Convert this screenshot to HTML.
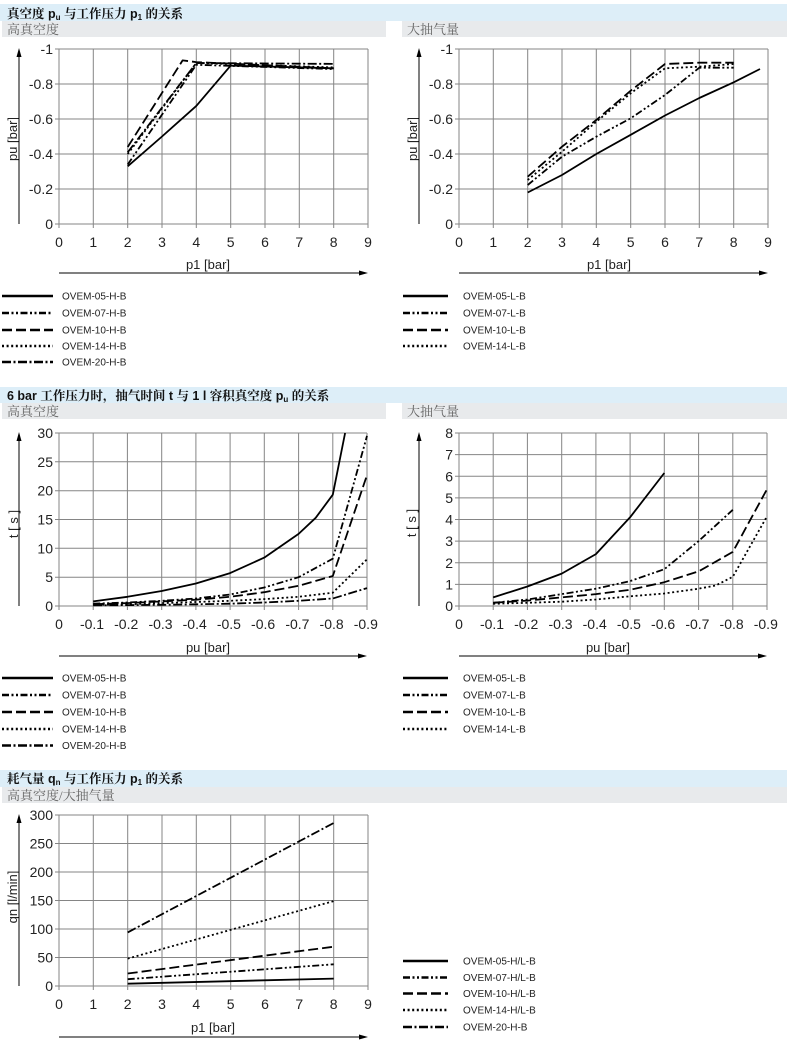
<!DOCTYPE html>
<html><head><meta charset="utf-8">
<style>
html,body{margin:0;padding:0;background:#fff;}
svg{display:block;}
.t{font-family:"Liberation Sans","Noto Serif CJK SC",serif;font-weight:bold;font-size:12.5px;fill:#111;}
.s{font-family:"Liberation Serif","Noto Serif CJK SC",serif;font-size:13px;fill:#666;}
.tk{font-family:"Liberation Sans",sans-serif;font-size:14px;fill:#222;}
.ax{font-family:"Liberation Sans",sans-serif;font-size:13px;fill:#222;}
.lg{font-family:"Liberation Sans",sans-serif;font-size:10px;fill:#222;}
.grid{stroke:#858585;stroke-width:1;fill:none;}
.d{fill:none;stroke:#000;stroke-width:1.8;stroke-linejoin:round;}
.l{fill:none;stroke:#000;stroke-width:2.5;}
.s07{stroke-dasharray:7 2.5 2 2.5 2 2.5;}
.s10{stroke-dasharray:10 4;}
.s14{stroke-dasharray:2 2.6;}
.s20{stroke-dasharray:9 2.5 2 2.5;}
.arr{stroke:#000;stroke-width:1;fill:none;}
</style></head>
<body>
<svg width="790" height="1044" viewBox="0 0 790 1044" xmlns="http://www.w3.org/2000/svg">
<!-- ===== Section 1 header ===== -->
<rect x="0" y="4" width="787" height="17" fill="#ddeef8"/>
<rect x="2" y="21" width="384" height="16" fill="#e8eaec"/>
<rect x="402" y="21" width="385" height="16" fill="#e8eaec"/>
<text x="7" y="18" class="t">真空度 p<tspan font-size="8" dy="2">u</tspan><tspan dy="-2"> 与工作压力 p</tspan><tspan font-size="8" dy="2">1</tspan><tspan dy="-2"> 的关系</tspan></text>
<text x="7" y="34" class="s">高真空度</text>
<text x="407" y="34" class="s">大抽气量</text>

<!-- ===== Chart 1 ===== -->
<path class="grid" d="M59,49V228M93.3,49V228M127.7,49V228M162,49V228M196.3,49V228M230.7,49V228M265,49V228M299.3,49V228M333.7,49V228M368,49V228M55,49H368M55,84H368M55,119H368M55,154H368M55,189H368M55,224H368"/>
<g class="tk" text-anchor="end">
<text x="53" y="54">-1</text><text x="53" y="89">-0.8</text><text x="53" y="124">-0.6</text><text x="53" y="159">-0.4</text><text x="53" y="194">-0.2</text><text x="53" y="229">0</text>
</g>
<g class="tk" text-anchor="middle">
<text x="59" y="247">0</text><text x="93.3" y="247">1</text><text x="127.7" y="247">2</text><text x="162" y="247">3</text><text x="196.3" y="247">4</text><text x="230.7" y="247">5</text><text x="265" y="247">6</text><text x="299.3" y="247">7</text><text x="333.7" y="247">8</text><text x="368" y="247">9</text>
</g>
<text class="ax" x="208" y="269" text-anchor="middle">p1 [bar]</text>
<text class="ax" transform="translate(17,139) rotate(-90)" text-anchor="middle">pu [bar]</text>
<path class="arr" d="M19,224V56M59,273H361"/>
<polygon points="19,48 16.5,57 21.5,57" fill="#000"/>
<polygon points="368,273 359,270.5 359,275.5" fill="#000"/>
<path class="d" d="M127.7,166.3L162,136.5L196.3,105.9L230.7,65.6L333.7,68.3"/>
<path class="d s07" d="M127.7,164.5L196.3,64.8L333.7,69.1"/>
<path class="d s10" d="M127.7,147L182.6,60.4L196.3,62.1L333.7,68.3"/>
<path class="d s14" d="M127.7,154L196.3,63L333.7,67.4"/>
<path class="d s20" d="M127.7,152.3L196.3,63L333.7,63.9"/>

<!-- ===== Chart 2 ===== -->
<path class="grid" d="M459,49V228M493.3,49V228M527.7,49V228M562,49V228M596.3,49V228M630.7,49V228M665,49V228M699.3,49V228M733.7,49V228M768,49V228M455,49H768M455,84H768M455,119H768M455,154H768M455,189H768M455,224H768"/>
<g class="tk" text-anchor="end">
<text x="453" y="54">-1</text><text x="453" y="89">-0.8</text><text x="453" y="124">-0.6</text><text x="453" y="159">-0.4</text><text x="453" y="194">-0.2</text><text x="453" y="229">0</text>
</g>
<g class="tk" text-anchor="middle">
<text x="459" y="247">0</text><text x="493.3" y="247">1</text><text x="527.7" y="247">2</text><text x="562" y="247">3</text><text x="596.3" y="247">4</text><text x="630.7" y="247">5</text><text x="665" y="247">6</text><text x="699.3" y="247">7</text><text x="733.7" y="247">8</text><text x="768" y="247">9</text>
</g>
<text class="ax" x="609" y="269" text-anchor="middle">p1 [bar]</text>
<text class="ax" transform="translate(417,139) rotate(-90)" text-anchor="middle">pu [bar]</text>
<path class="arr" d="M419,224V56M459,273H761"/>
<polygon points="419,48 416.5,57 421.5,57" fill="#000"/>
<polygon points="768,273 759,270.5 759,275.5" fill="#000"/>
<path class="d" d="M527.7,192.5L562,175L596.3,154L630.7,134.8L665,115.5L699.3,98L733.7,82.3L760,69"/>
<path class="d s07" d="M527.7,185L562,156.7L596.3,136.7L630.7,118.3L665,95L699.3,67.7L733.7,67.7"/>
<path class="d s10" d="M527.7,176.7L562,146.7L596.3,120L630.7,90.7L665,64L699.3,62.7L733.7,62.7"/>
<path class="d s14" d="M527.7,180L562,151.7L596.3,121.7L630.7,93.3L665,68.3L699.3,66.7L733.7,64"/>

<!-- ===== Legend 1 ===== -->
<g>
<line class="l" x1="2" y1="296" x2="53" y2="296"/><text class="lg" x="62" y="299.5">OVEM-05-H-B</text>
<line class="l s07" x1="2" y1="313" x2="53" y2="313"/><text class="lg" x="62" y="316.5">OVEM-07-H-B</text>
<line class="l s10" x1="2" y1="330" x2="53" y2="330"/><text class="lg" x="62" y="333.5">OVEM-10-H-B</text>
<line class="l s14" x1="2" y1="346" x2="53" y2="346"/><text class="lg" x="62" y="349.5">OVEM-14-H-B</text>
<line class="l s20" x1="2" y1="362" x2="53" y2="362"/><text class="lg" x="62" y="365.5">OVEM-20-H-B</text>
<line class="l" x1="403" y1="296" x2="448" y2="296"/><text class="lg" x="463" y="299.5">OVEM-05-L-B</text>
<line class="l s07" x1="403" y1="313" x2="448" y2="313"/><text class="lg" x="463" y="316.5">OVEM-07-L-B</text>
<line class="l s10" x1="403" y1="330" x2="448" y2="330"/><text class="lg" x="463" y="333.5">OVEM-10-L-B</text>
<line class="l s14" x1="403" y1="346" x2="448" y2="346"/><text class="lg" x="463" y="349.5">OVEM-14-L-B</text>
</g>

<!-- ===== Section 2 header ===== -->
<rect x="0" y="387" width="787" height="16" fill="#ddeef8"/>
<rect x="2" y="403" width="384" height="16" fill="#e8eaec"/>
<rect x="402" y="403" width="385" height="16" fill="#e8eaec"/>
<text x="7" y="400" class="t">6 bar 工作压力时，抽气时间 t 与 1 l 容积真空度 p<tspan font-size="8" dy="2">u</tspan><tspan dy="-2"> 的关系</tspan></text>
<text x="7" y="416" class="s">高真空度</text>
<text x="407" y="416" class="s">大抽气量</text>

<!-- ===== Chart 3 ===== -->
<path class="grid" d="M59,433V610M93.2,433V610M127.4,433V610M161.7,433V610M195.9,433V610M230.1,433V610M264.3,433V610M298.6,433V610M332.8,433V610M367,433V610M55,433H367M55,461.8H367M55,490.7H367M55,519.5H367M55,548.3H367M55,577.2H367M55,606H367"/>
<g class="tk" text-anchor="end">
<text x="53" y="438">30</text><text x="53" y="466.8">25</text><text x="53" y="495.7">20</text><text x="53" y="524.5">15</text><text x="53" y="553.3">10</text><text x="53" y="582.2">5</text><text x="53" y="611">0</text>
</g>
<g class="tk" text-anchor="middle">
<text x="59" y="629">0</text><text x="92" y="629">-0.1</text><text x="126.2" y="629">-0.2</text><text x="160.5" y="629">-0.3</text><text x="194.7" y="629">-0.4</text><text x="228.9" y="629">-0.5</text><text x="263.1" y="629">-0.6</text><text x="297.4" y="629">-0.7</text><text x="331.6" y="629">-0.8</text><text x="365.8" y="629">-0.9</text>
</g>
<text class="ax" x="208" y="652" text-anchor="middle">pu [bar]</text>
<text class="ax" transform="translate(18,524) rotate(-90)" text-anchor="middle">t [ s ]</text>
<path class="arr" d="M19,606V440M59,656H360"/>
<polygon points="19,432 16.5,441 21.5,441" fill="#000"/>
<polygon points="367,656 358,653.5 358,658.5" fill="#000"/>
<path class="d" d="M93.2,601.4L127.4,596.8L161.7,591L195.9,583.5L230.1,573.1L264.3,557.6L298.6,533.9L315.7,517.8L332.8,494.7L345.1,433"/>
<path class="d s07" d="M93.2,603.7L127.4,602.5L161.7,600.8L195.9,598.5L230.1,594.5L264.3,587.5L298.6,577.2L332.8,558.7L367,435.9"/>
<path class="d s10" d="M93.2,604.3L127.4,603.1L161.7,601.4L195.9,599.7L230.1,596.8L264.3,592.2L298.6,585.8L332.8,576L367,475.1"/>
<path class="d s14" d="M93.2,604.8L127.4,604.3L161.7,603.1L195.9,602L230.1,600.8L264.3,599.1L298.6,596.8L332.8,592.7L367,559.3"/>
<path class="d s20" d="M93.2,605.4L127.4,605.1L161.7,604.8L195.9,604.3L230.1,603.7L264.3,602.5L298.6,600.8L332.8,598.5L367,588.1"/>

<!-- ===== Chart 4 ===== -->
<path class="grid" d="M459,433V610M493.2,433V610M527.4,433V610M561.7,433V610M595.9,433V610M630.1,433V610M664.3,433V610M698.6,433V610M732.8,433V610M767,433V610M455,433H767M455,454.6H767M455,476.3H767M455,497.9H767M455,519.5H767M455,541.1H767M455,562.8H767M455,584.4H767M455,606H767"/>
<g class="tk" text-anchor="end">
<text x="453" y="438">8</text><text x="453" y="459.6">7</text><text x="453" y="481.3">6</text><text x="453" y="502.9">5</text><text x="453" y="524.5">4</text><text x="453" y="546.1">3</text><text x="453" y="567.8">2</text><text x="453" y="589.4">1</text><text x="453" y="611">0</text>
</g>
<g class="tk" text-anchor="middle">
<text x="459" y="629">0</text><text x="492" y="629">-0.1</text><text x="526.2" y="629">-0.2</text><text x="560.5" y="629">-0.3</text><text x="594.7" y="629">-0.4</text><text x="628.9" y="629">-0.5</text><text x="663.1" y="629">-0.6</text><text x="697.4" y="629">-0.7</text><text x="731.6" y="629">-0.8</text><text x="765.8" y="629">-0.9</text>
</g>
<text class="ax" x="608" y="652" text-anchor="middle">pu [bar]</text>
<text class="ax" transform="translate(416,523) rotate(-90)" text-anchor="middle">t [ s ]</text>
<path class="arr" d="M419,606V440M459,656H760"/>
<polygon points="419,432 416.5,441 421.5,441" fill="#000"/>
<polygon points="767,656 758,653.5 758,658.5" fill="#000"/>
<path class="d" d="M493.2,597.4L527.4,586.5L561.7,573.6L595.9,554.1L630.1,517.3L664.3,473"/>
<path class="d s07" d="M493.2,602.8L527.4,599.5L561.7,594.1L595.9,588.7L630.1,581.1L664.3,569.2L698.6,541.1L732.8,509.8"/>
<path class="d s10" d="M493.2,602.8L527.4,600.6L561.7,597.4L595.9,594.1L630.1,589.8L664.3,582.2L698.6,571.4L732.8,551.9L767,489.2"/>
<path class="d s14" d="M493.2,603.8L527.4,602.8L561.7,601.7L595.9,599.5L630.1,596.3L664.3,593.5L698.6,588.7L715.7,585.5L732.8,576.8L767,516.3"/>

<!-- ===== Legend 2 ===== -->
<g>
<line class="l" x1="2" y1="678" x2="53" y2="678"/><text class="lg" x="62" y="681.5">OVEM-05-H-B</text>
<line class="l s07" x1="2" y1="695" x2="53" y2="695"/><text class="lg" x="62" y="698.5">OVEM-07-H-B</text>
<line class="l s10" x1="2" y1="712" x2="53" y2="712"/><text class="lg" x="62" y="715.5">OVEM-10-H-B</text>
<line class="l s14" x1="2" y1="729" x2="53" y2="729"/><text class="lg" x="62" y="732.5">OVEM-14-H-B</text>
<line class="l s20" x1="2" y1="745.5" x2="53" y2="745.5"/><text class="lg" x="62" y="749">OVEM-20-H-B</text>
<line class="l" x1="403" y1="678" x2="448" y2="678"/><text class="lg" x="463" y="681.5">OVEM-05-L-B</text>
<line class="l s07" x1="403" y1="695" x2="448" y2="695"/><text class="lg" x="463" y="698.5">OVEM-07-L-B</text>
<line class="l s10" x1="403" y1="712" x2="448" y2="712"/><text class="lg" x="463" y="715.5">OVEM-10-L-B</text>
<line class="l s14" x1="403" y1="729" x2="448" y2="729"/><text class="lg" x="463" y="732.5">OVEM-14-L-B</text>
</g>

<!-- ===== Section 3 header ===== -->
<rect x="0" y="770" width="787" height="17" fill="#ddeef8"/>
<rect x="2" y="787" width="785" height="16" fill="#e8eaec"/>
<text x="7" y="783" class="t">耗气量 q<tspan font-size="8" dy="2">n</tspan><tspan dy="-2"> 与工作压力 p</tspan><tspan font-size="8" dy="2">1</tspan><tspan dy="-2"> 的关系</tspan></text>
<text x="7" y="800" class="s">高真空度/大抽气量</text>

<!-- ===== Chart 5 ===== -->
<path class="grid" d="M59,815V990M93.3,815V990M127.7,815V990M162,815V990M196.3,815V990M230.7,815V990M265,815V990M299.3,815V990M333.7,815V990M368,815V990M55,815H368M55,843.5H368M55,872H368M55,900.5H368M55,929H368M55,957.5H368M55,986H368"/>
<g class="tk" text-anchor="end">
<text x="53" y="820">300</text><text x="53" y="848.5">250</text><text x="53" y="877">200</text><text x="53" y="905.5">150</text><text x="53" y="934">100</text><text x="53" y="962.5">50</text><text x="53" y="991">0</text>
</g>
<g class="tk" text-anchor="middle">
<text x="59" y="1009">0</text><text x="93.3" y="1009">1</text><text x="127.7" y="1009">2</text><text x="162" y="1009">3</text><text x="196.3" y="1009">4</text><text x="230.7" y="1009">5</text><text x="265" y="1009">6</text><text x="299.3" y="1009">7</text><text x="333.7" y="1009">8</text><text x="368" y="1009">9</text>
</g>
<text class="ax" x="213" y="1032" text-anchor="middle">p1 [bar]</text>
<text class="ax" transform="translate(17,897) rotate(-90)" text-anchor="middle">qn [l/min]</text>
<path class="arr" d="M19,986V822M59,1037H361"/>
<polygon points="19,814 16.5,823 21.5,823" fill="#000"/>
<polygon points="368,1037 359,1034.5 359,1039.5" fill="#000"/>
<path class="d" d="M127.7,983.7L333.7,978.6"/>
<path class="d s07" d="M127.7,979.2L333.7,964.3"/>
<path class="d s10" d="M127.7,973.5L333.7,946.7"/>
<path class="d s14" d="M127.7,958.6L333.7,901.1"/>
<path class="d s20" d="M127.7,932.4L333.7,823"/>

<!-- ===== Legend 3 ===== -->
<g>
<line class="l" x1="403" y1="961" x2="448" y2="961"/><text class="lg" x="463" y="964.5">OVEM-05-H/L-B</text>
<line class="l s07" x1="403" y1="977.5" x2="448" y2="977.5"/><text class="lg" x="463" y="981">OVEM-07-H/L-B</text>
<line class="l s10" x1="403" y1="993.5" x2="448" y2="993.5"/><text class="lg" x="463" y="997">OVEM-10-H/L-B</text>
<line class="l s14" x1="403" y1="1010" x2="448" y2="1010"/><text class="lg" x="463" y="1013.5">OVEM-14-H/L-B</text>
<line class="l s20" x1="403" y1="1027" x2="448" y2="1027"/><text class="lg" x="463" y="1030.5">OVEM-20-H-B</text>
</g>
</svg>
</body></html>
